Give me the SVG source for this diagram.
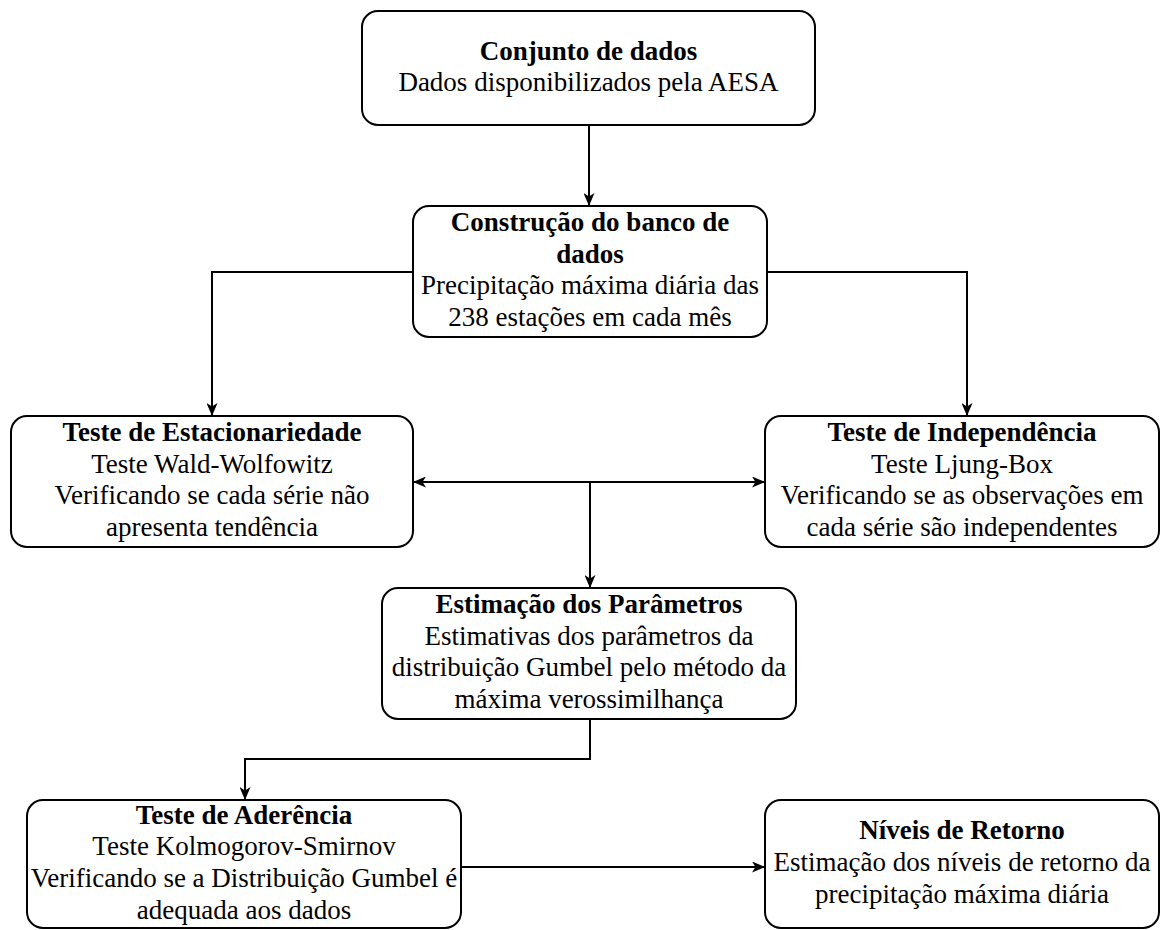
<svg xmlns="http://www.w3.org/2000/svg" width="1161" height="930" viewBox="0 0 1161 930">
<style>
.box{fill:#ffffff;stroke:#000000;stroke-width:2}
.c{fill:none;stroke:#000000;stroke-width:2}
</style>
<defs>
<marker id="arr" viewBox="0 0 13 11" refX="13" refY="5.5" markerWidth="13" markerHeight="11" markerUnits="userSpaceOnUse" orient="auto-start-reverse">
<path d="M0,0 L13,5.5 L0,11 L3.5,5.5 Z" fill="#000000"/>
</marker>
</defs>
<rect width="1161" height="930" fill="#ffffff"/>
<g id="connectors">
<path class="c" d="M589,126 V206" marker-end="url(#arr)"/>
<path class="c" d="M413,272 H212 V416" marker-end="url(#arr)"/>
<path class="c" d="M767,272 H967 V416" marker-end="url(#arr)"/>
<path class="c" d="M413,482 H765" marker-start="url(#arr)" marker-end="url(#arr)"/>
<path class="c" d="M590,482 V588" marker-end="url(#arr)"/>
<path class="c" d="M590,719 V759 H245 V800" marker-end="url(#arr)"/>
<path class="c" d="M461,867 H765" marker-end="url(#arr)"/>
</g>
<g id="n1">
<rect class="box" x="362" y="11" width="453" height="114" rx="16"/>
<text x="588.5" y="59.6" style="font-family:'Liberation Serif';font-size:27px;font-weight:bold;text-anchor:middle">Conjunto de dados</text>
<text x="588.5" y="91.4" style="font-family:'Liberation Serif';font-size:27px;text-anchor:middle">Dados disponibilizados pela AESA</text>
</g>
<g id="n2">
<rect class="box" x="413" y="206" width="354" height="131" rx="16"/>
<text x="590" y="231" style="font-family:'Liberation Serif';font-size:27px;font-weight:bold;text-anchor:middle">Construção do banco de</text>
<text x="590" y="262.7" style="font-family:'Liberation Serif';font-size:27px;font-weight:bold;text-anchor:middle">dados</text>
<text x="590" y="294.3" style="font-family:'Liberation Serif';font-size:27px;text-anchor:middle">Precipitação máxima diária das</text>
<text x="590" y="326" style="font-family:'Liberation Serif';font-size:27px;text-anchor:middle">238 estações em cada mês</text>
</g>
<g id="n3">
<rect class="box" x="11" y="416" width="402" height="131" rx="16"/>
<text x="212" y="441" style="font-family:'Liberation Serif';font-size:27px;font-weight:bold;text-anchor:middle">Teste de Estacionariedade</text>
<text x="212" y="472.7" style="font-family:'Liberation Serif';font-size:27px;text-anchor:middle">Teste Wald-Wolfowitz</text>
<text x="212" y="504.3" style="font-family:'Liberation Serif';font-size:27px;text-anchor:middle">Verificando se cada série não</text>
<text x="212" y="536" style="font-family:'Liberation Serif';font-size:27px;text-anchor:middle">apresenta tendência</text>
</g>
<g id="n4">
<rect class="box" x="765" y="416" width="394" height="131" rx="16"/>
<text x="962" y="441" style="font-family:'Liberation Serif';font-size:27px;font-weight:bold;text-anchor:middle">Teste de Independência</text>
<text x="962" y="472.7" style="font-family:'Liberation Serif';font-size:27px;text-anchor:middle">Teste Ljung-Box</text>
<text x="962" y="504.3" style="font-family:'Liberation Serif';font-size:27px;text-anchor:middle">Verificando se as observações em</text>
<text x="962" y="536" style="font-family:'Liberation Serif';font-size:27px;text-anchor:middle">cada série são independentes</text>
</g>
<g id="n5">
<rect class="box" x="382" y="588" width="414" height="131" rx="16"/>
<text x="589" y="613" style="font-family:'Liberation Serif';font-size:27px;font-weight:bold;text-anchor:middle">Estimação dos Parâmetros</text>
<text x="589" y="644.7" style="font-family:'Liberation Serif';font-size:27px;text-anchor:middle">Estimativas dos parâmetros da</text>
<text x="589" y="676.3" style="font-family:'Liberation Serif';font-size:27px;text-anchor:middle">distribuição Gumbel pelo método da</text>
<text x="589" y="708" style="font-family:'Liberation Serif';font-size:27px;text-anchor:middle">máxima verossimilhança</text>
</g>
<g id="n6">
<rect class="box" x="27" y="800" width="434" height="128" rx="16"/>
<text x="244" y="823.5" style="font-family:'Liberation Serif';font-size:27px;font-weight:bold;text-anchor:middle">Teste de Aderência</text>
<text x="244" y="855.2" style="font-family:'Liberation Serif';font-size:27px;text-anchor:middle">Teste Kolmogorov-Smirnov</text>
<text x="244" y="886.8" style="font-family:'Liberation Serif';font-size:27px;text-anchor:middle">Verificando se a Distribuição Gumbel é</text>
<text x="244" y="918.5" style="font-family:'Liberation Serif';font-size:27px;text-anchor:middle">adequada aos dados</text>
</g>
<g id="n7">
<rect class="box" x="765" y="800" width="394" height="128" rx="16"/>
<text x="962" y="839.3" style="font-family:'Liberation Serif';font-size:27px;font-weight:bold;text-anchor:middle">Níveis de Retorno</text>
<text x="962" y="871" style="font-family:'Liberation Serif';font-size:27px;text-anchor:middle">Estimação dos níveis de retorno da</text>
<text x="962" y="902.7" style="font-family:'Liberation Serif';font-size:27px;text-anchor:middle">precipitação máxima diária</text>
</g>
</svg>
